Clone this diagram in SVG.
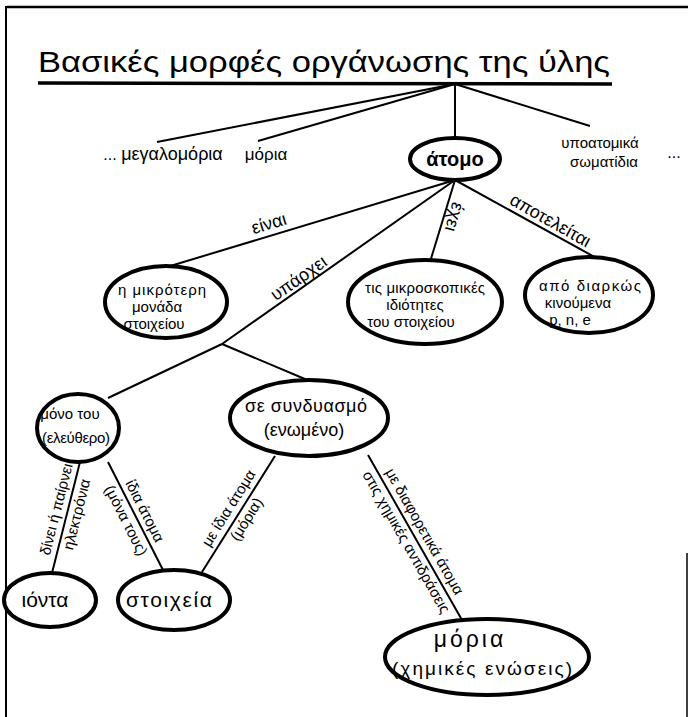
<svg xmlns="http://www.w3.org/2000/svg" width="688" height="717" viewBox="0 0 688 717">
<style>
text{font-family:"Liberation Sans","Open Sans","DejaVu Sans",sans-serif;fill:#000}
.n{font-size:17px;text-anchor:middle}
.s{font-size:15px;text-anchor:middle}
.l{font-size:18px;text-anchor:middle}
.e{fill:#fff;stroke:#000;stroke-width:4}
.c{stroke:#000;stroke-width:2;fill:none}
</style>
<rect width="688" height="717" fill="#fff"/>
<g id="frame" stroke="#000" fill="none">
<line x1="7" y1="7" x2="688" y2="7" stroke-width="2.5"/>
<line x1="6" y1="6" x2="6" y2="717" stroke-width="2"/>
<line x1="687" y1="553" x2="687" y2="717" stroke-width="1.5"/>
</g>
<g id="title">
<text x="38" y="72" font-size="29" textLength="572" lengthAdjust="spacingAndGlyphs">Βασικές μορφές οργάνωσης της ύλης</text>
<line x1="38" y1="83" x2="612" y2="84" stroke="#000" stroke-width="3.5"/>
</g>
<g id="connectors" class="c">
<line x1="455" y1="84" x2="157" y2="142"/>
<line x1="455" y1="84" x2="258" y2="141"/>
<line x1="455" y1="84" x2="455" y2="138"/>
<line x1="455" y1="84" x2="590" y2="126"/>
<line x1="455" y1="180" x2="167" y2="267"/>
<line x1="455" y1="180" x2="222" y2="344"/>
<line x1="222" y1="344" x2="108" y2="398"/>
<line x1="222" y1="344" x2="312" y2="382"/>
<line x1="455" y1="180" x2="430" y2="262"/>
<line x1="455" y1="180" x2="600" y2="260"/>
<line x1="80" y1="462" x2="52" y2="573"/>
<line x1="108" y1="462" x2="163" y2="570"/>
<line x1="275" y1="456" x2="202" y2="572"/>
<line x1="368" y1="455" x2="462" y2="620"/>
</g>
<g id="labels">
<text class="l" transform="translate(272,234) rotate(-16.6)" dy="-5">είναι</text>
<text class="l" transform="translate(305,287) rotate(-35)" dy="-5">υπάρχει</text>
<text class="l" transform="translate(444,214) rotate(106)" dy="-5">έχει</text>
<text class="l" transform="translate(545,230) rotate(29.5)" dy="-5">αποτελείται</text>
<text class="s" transform="translate(67,512) rotate(-75.8)" dy="-6">δίνει ή παίρνει</text>
<text class="s" transform="translate(67,512) rotate(-75.8)" dy="15">ηλεκτρόνια</text>
<text class="s" transform="translate(135,516) rotate(63)" dy="-6">ίδια άτομα</text>
<text class="s" transform="translate(135,516) rotate(63)" dy="15">(μόνα τους)</text>
<text class="s" transform="translate(238,514) rotate(-57.8)" dy="-6">με ίδια άτομα</text>
<text class="s" transform="translate(238,514) rotate(-57.8)" dy="15">(μόρια)</text>
<text class="s" transform="translate(415,537) rotate(60.3)" dy="-6">με διαφορετικά άτομα</text>
<text class="s" transform="translate(415,537) rotate(60.3)" dy="15">στις χημικές αντιδράσεις</text>
</g>
<g id="dots-left"><text x="110" y="160" font-size="16" text-anchor="middle">...</text></g>
<g id="megalomoria"><text x="172" y="160" font-size="18" text-anchor="middle">μεγαλομόρια</text></g>
<g id="moria-top"><text x="266" y="160" class="n">μόρια</text></g>
<g id="atomo">
<ellipse class="e" cx="455" cy="159" rx="45" ry="21"/>
<text x="455" y="166" font-size="20" font-weight="bold" text-anchor="middle">άτομο</text>
</g>
<g id="ypoatomika">
<text x="600" y="148" class="s">υποατομικά</text>
<text x="604" y="167" class="s">σωματίδια</text>
</g>
<g id="dots-right"><text x="674" y="158" font-size="16" text-anchor="middle">...</text></g>
<g id="mikroteri">
<ellipse class="e" cx="166" cy="302" rx="61" ry="36"/>
<text x="162" y="295" class="s" textLength="88">η μικρότερη</text>
<text x="157" y="312" class="s">μονάδα</text>
<text x="154" y="329" class="s">στοιχείου</text>
</g>
<g id="idiotites">
<ellipse class="e" cx="425" cy="302" rx="77" ry="42"/>
<text x="425" y="293" class="s" textLength="120">τις μικροσκοπικές</text>
<text x="415" y="310" class="s">ιδιότητες</text>
<text x="411" y="327" class="s">του στοιχείου</text>
</g>
<g id="kinoumena">
<ellipse class="e" cx="589" cy="295" rx="64" ry="38"/>
<text x="590" y="291" class="s" textLength="102">από διαρκώς</text>
<text x="578" y="308" class="s">κινούμενα</text>
<text x="570" y="325" class="s">p, n, e</text>
</g>
<g id="monotou">
<ellipse class="e" cx="78" cy="428" rx="41" ry="34"/>
<text x="70" y="419" class="s">μόνο του</text>
<text x="76" y="443" class="s" textLength="68">(ελεύθερο)</text>
</g>
<g id="syndyasmo">
<ellipse class="e" cx="309" cy="418" rx="79" ry="38"/>
<text x="306" y="412" font-size="18" text-anchor="middle" textLength="122">σε συνδυασμό</text>
<text x="304" y="436" font-size="18" text-anchor="middle">(ενωμένο)</text>
</g>
<g id="ionta">
<ellipse class="e" cx="50" cy="600" rx="46" ry="27"/>
<text x="45" y="607" font-size="21" text-anchor="middle">ιόντα</text>
</g>
<g id="stoixeia">
<ellipse class="e" cx="174" cy="600" rx="56" ry="30"/>
<text x="169" y="607" font-size="21" text-anchor="middle" textLength="86">στοιχεία</text>
</g>
<g id="moria">
<ellipse class="e" cx="487" cy="657" rx="102" ry="38"/>
<text x="470" y="647" font-size="23" text-anchor="middle" letter-spacing="3">μόρια</text>
<text x="482" y="675" font-size="19" text-anchor="middle" textLength="180">(χημικές ενώσεις)</text>
</g>
</svg>
